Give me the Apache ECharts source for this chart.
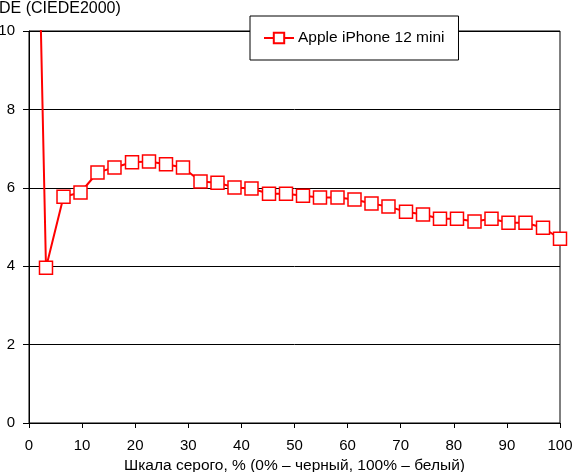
<!DOCTYPE html>
<html><head><meta charset="utf-8">
<script src="https://cdn.jsdelivr.net/npm/echarts@6/dist/echarts.min.js"></script>
<style>html,body{margin:0;padding:0;background:#fff}#c{width:573px;height:472px}</style>
</head><body><div id="c"></div>
<script>
const seriesName = 'Apple iPhone 12 mini';
const grayX = [0, 3.2, 6.5, 9.7, 12.9, 16.1, 19.4, 22.6, 25.8, 29.0, 32.3, 35.5, 38.7, 41.9, 45.2, 48.4, 51.6, 54.8, 58.1, 61.3, 64.5, 67.7, 71.0, 74.2, 77.4, 80.6, 83.9, 87.1, 90.3, 93.5, 96.8, 100];
const deValues = [24.2, 3.96, 5.77, 5.88, 6.39, 6.52, 6.65, 6.67, 6.60, 6.52, 6.16, 6.13, 6.01, 5.98, 5.85, 5.85, 5.80, 5.75, 5.75, 5.70, 5.60, 5.52, 5.39, 5.32, 5.21, 5.21, 5.14, 5.21, 5.11, 5.11, 4.98, 4.70];
const yAxisTitle = 'DE (CIEDE2000)';
const xAxisTitle = 'Шкала серого, % (0% – черный, 100% – белый)';

const font = 'Liberation Sans, Arial, sans-serif';
const chart = echarts.init(document.getElementById('c'));
chart.setOption({
  animation: false,
  backgroundColor: '#fff',
  textStyle: {fontFamily: font, color: '#000'},
  title: {text: yAxisTitle, left: -1, top: 1, textStyle: {fontFamily: font, fontSize: 16, fontWeight: 'normal', color: '#000'}, padding: 0},
  grid: {left: 29, right: 13, top: 31, bottom: 49, show: true, borderColor: '#000', borderWidth: 1, containLabel: false, outerBoundsMode: 'none'},
  legend: {
    left: 250, top: 16, padding: [14, 14, 14, 13],
    backgroundColor: '#fff', borderColor: '#000', borderWidth: 1, borderRadius: 0,
    itemWidth: 30, itemHeight: 13, itemGap: 4,
    textStyle: {fontFamily: font, fontSize: 15.5, color: '#000', padding: [0,0,0,-1]},
    data: [{name: seriesName}]
  },
  xAxis: {
    type: 'value', min: 0, max: 100, interval: 10,
    name: xAxisTitle, nameLocation: 'middle', nameGap: 33,
    nameTextStyle: {fontFamily: font, fontSize: 15.5, color: '#000'},
    axisLine: {lineStyle: {color: '#000', width: 1}},
    axisTick: {show: true, length: 5, lineStyle: {color: '#000'}},
    axisLabel: {fontFamily: font, fontSize: 15, color: '#000', margin: 15},
    splitLine: {show: false}
  },
  yAxis: {
    type: 'value', min: 0, max: 10, interval: 2,
    axisLine: {show: true, lineStyle: {color: '#000', width: 1}},
    axisTick: {show: true, length: 6, lineStyle: {color: '#000'}},
    axisLabel: {fontFamily: font, fontSize: 15, color: '#000', margin: 14},
    splitLine: {show: true, lineStyle: {color: '#000', width: 1}}
  },
  series: [{
    name: seriesName, type: 'line',
    data: grayX.map((x, i) => [x, deValues[i]]),
    symbol: 'rect', symbolSize: 13, showAllSymbol: true,
    itemStyle: {color: '#fff', borderColor: '#ff0000', borderWidth: 1.5},
    lineStyle: {color: '#ff0000', width: 2},
    clip: true, z: 3
  }]
});
</script></body></html>
